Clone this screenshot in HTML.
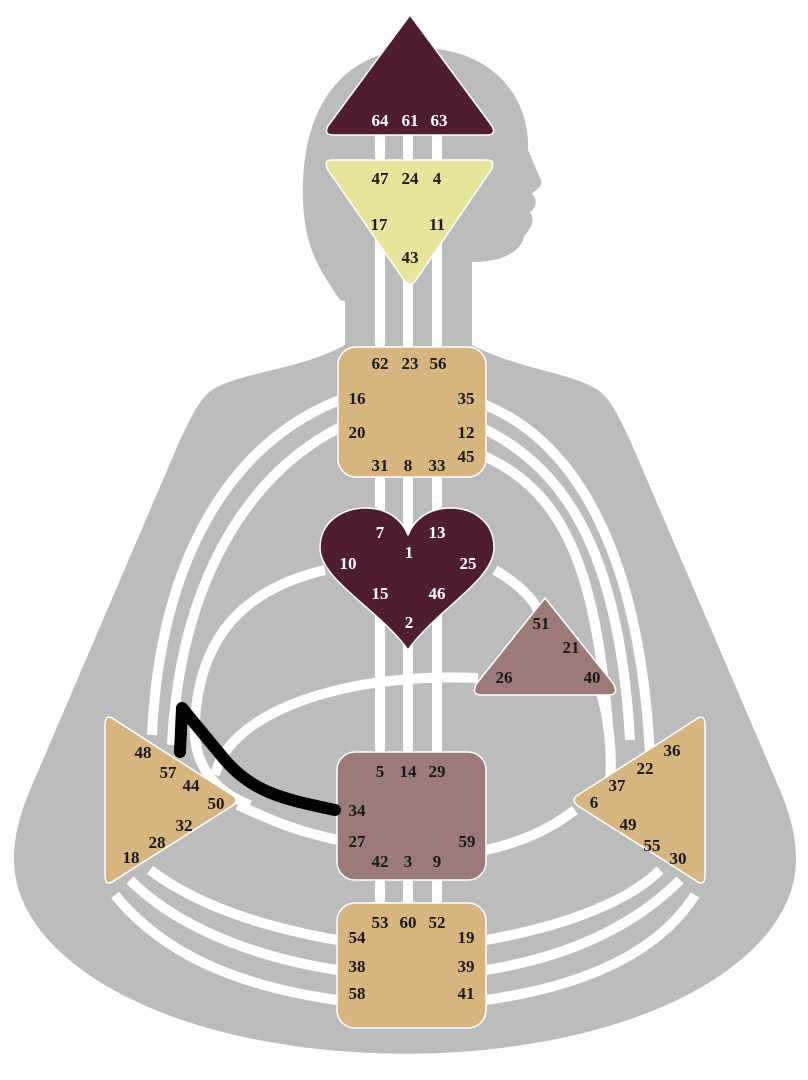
<!DOCTYPE html>
<html><head><meta charset="utf-8"><style>
html,body{margin:0;padding:0;background:#fff;}
svg{display:block;}
text{font-family:"Liberation Serif",serif;font-weight:bold;font-size:17px;text-anchor:middle;}
.w{fill:#fff}.k{fill:#1a1a1a}
</style></head><body>
<svg width="808" height="1080" viewBox="0 0 808 1080" xmlns="http://www.w3.org/2000/svg">
<rect width="808" height="1080" fill="#fff"/>
<g fill="#bbbcbe">
<path d="M340 300 C320 270 305 250 303 200 C300 110 340 50 420 48 C490 48 530 95 528 150 L540 178 C545 186 535 190 532 194 C538 200 536 208 530 212 C536 220 530 230 524 236 C522 250 505 262 472 262 L472 330 Z"/>
<path d="M345 300 L472 300 L472 345 C520 370 570 372 598 390 C612 400 620 420 630 440 L780 790 C805 850 800 890 770 930 C640 1095 170 1095 40 930 C10 890 5 850 30 790 L180 440 C190 420 198 400 212 390 C240 372 300 370 345 345 Z"/>
</g>
<g fill="none" stroke="#fff" stroke-width="10">
<line x1="380" y1="100" x2="380" y2="950"/>
<line x1="408" y1="100" x2="408" y2="950"/>
<line x1="437" y1="100" x2="437" y2="950"/>
<path d="M345 398 C230 440 160 560 152 735"/>
<path d="M345 425 C250 470 180 580 172 745"/>
<path d="M325 570 C240 590 200 640 195 720 C192 760 210 790 250 805"/>
<path d="M478 678 C350 672 230 710 215 775"/>
<path d="M338 840 C290 830 260 815 238 805"/>
<path d="M478 402 C580 440 640 560 650 755"/>
<path d="M482 428 C570 470 620 560 630 740"/>
<path d="M482 455 C560 490 595 560 608 725"/>
<path d="M495 570 C520 585 535 600 540 615"/>
<path d="M600 690 C610 720 612 760 610 780"/>
<path d="M486 850 C530 840 555 825 575 810"/>
<path d="M337 940 C250 925 190 900 150 870"/>
<path d="M337 970 C240 955 170 920 130 880"/>
<path d="M337 1000 C230 985 160 950 115 895"/>
<path d="M486 940 C570 925 630 900 660 870"/>
<path d="M486 970 C580 955 640 920 680 880"/>
<path d="M486 1000 C590 985 660 950 695 895"/>
</g>
<g stroke="#fff" stroke-width="1.5" stroke-linejoin="round">
<path d="M410 15 L492 126 Q497 135 486 135 L334 135 Q323 135 328 126 Z" fill="#4e1d33"/>
<path d="M332 160 L487 160 Q496 160 491 170 L416 280 Q410 288 404 280 L328 170 Q323 160 332 160 Z" fill="#e8e49b"/>
<rect x="338" y="347" width="148" height="130" rx="18" fill="#d6b581"/>
<path d="M408 650 C380 610 320 580 320 548 C320 520 345 508 365 508 C390 508 403 522 408 535 C413 522 426 508 451 508 C471 508 494 520 494 548 C494 580 436 610 408 650 Z" fill="#4e1d33"/>
<path d="M545 598 L613 683 Q620 695 608 695 L482 695 Q470 695 477 683 Z" fill="#9b7a78"/>
<rect x="337" y="752" width="149" height="128" rx="18" fill="#9b7a78"/>
<rect x="337" y="903" width="149" height="125" rx="18" fill="#d6b581"/>
<path d="M105 725 Q105 712 115 720 L232 795 Q240 800 232 806 L115 880 Q105 888 105 875 Z" fill="#d6b581"/>
<path d="M705 725 Q705 712 695 720 L578 795 Q570 800 578 806 L695 880 Q705 888 705 875 Z" fill="#d6b581"/>
</g>
<g class="w"><text x="380" y="126">64</text><text x="410" y="126">61</text><text x="439" y="126">63</text></g>
<g class="k"><text x="380" y="184">47</text><text x="410" y="184">24</text><text x="437" y="184">4</text>
<text x="379" y="230">17</text><text x="437" y="230">11</text><text x="410" y="263">43</text></g>
<g class="k"><text x="380" y="369">62</text><text x="410" y="369">23</text><text x="438" y="369">56</text>
<text x="357" y="404">16</text><text x="466" y="404">35</text><text x="357" y="438">20</text><text x="466" y="438">12</text>
<text x="466" y="462">45</text><text x="380" y="471">31</text><text x="408" y="471">8</text><text x="437" y="471">33</text></g>
<g class="w"><text x="380" y="538">7</text><text x="437" y="538">13</text><text x="409" y="558">1</text>
<text x="348" y="569">10</text><text x="468" y="569">25</text><text x="380" y="599">15</text><text x="437" y="599">46</text><text x="409" y="628">2</text></g>
<g class="k"><text x="541" y="629">51</text><text x="571" y="653">21</text><text x="504" y="683">26</text><text x="592" y="683">40</text></g>
<g class="k"><text x="380" y="777">5</text><text x="408" y="777">14</text><text x="437" y="777">29</text>
<text x="357" y="816">34</text><text x="357" y="847">27</text><text x="467" y="847">59</text>
<text x="380" y="867">42</text><text x="408" y="867">3</text><text x="437" y="867">9</text></g>
<g class="k"><text x="380" y="928">53</text><text x="408" y="928">60</text><text x="437" y="928">52</text>
<text x="357" y="943">54</text><text x="466" y="943">19</text><text x="357" y="972">38</text><text x="466" y="972">39</text>
<text x="357" y="999">58</text><text x="466" y="999">41</text></g>
<g class="k"><text x="143" y="758">48</text><text x="168" y="778">57</text><text x="191" y="791">44</text><text x="216" y="809">50</text>
<text x="184" y="831">32</text><text x="157" y="848">28</text><text x="131" y="863">18</text></g>
<g class="k"><text x="672" y="756">36</text><text x="645" y="774">22</text><text x="617" y="791">37</text><text x="594" y="808">6</text>
<text x="628" y="830">49</text><text x="652" y="851">55</text><text x="678" y="864">30</text></g>
<path d="M335 810 C290 800 255 795 225 760 L182 708 L180 752" fill="none" stroke="#000" stroke-width="12" stroke-linecap="round" stroke-linejoin="round"/>
</svg>
</body></html>
